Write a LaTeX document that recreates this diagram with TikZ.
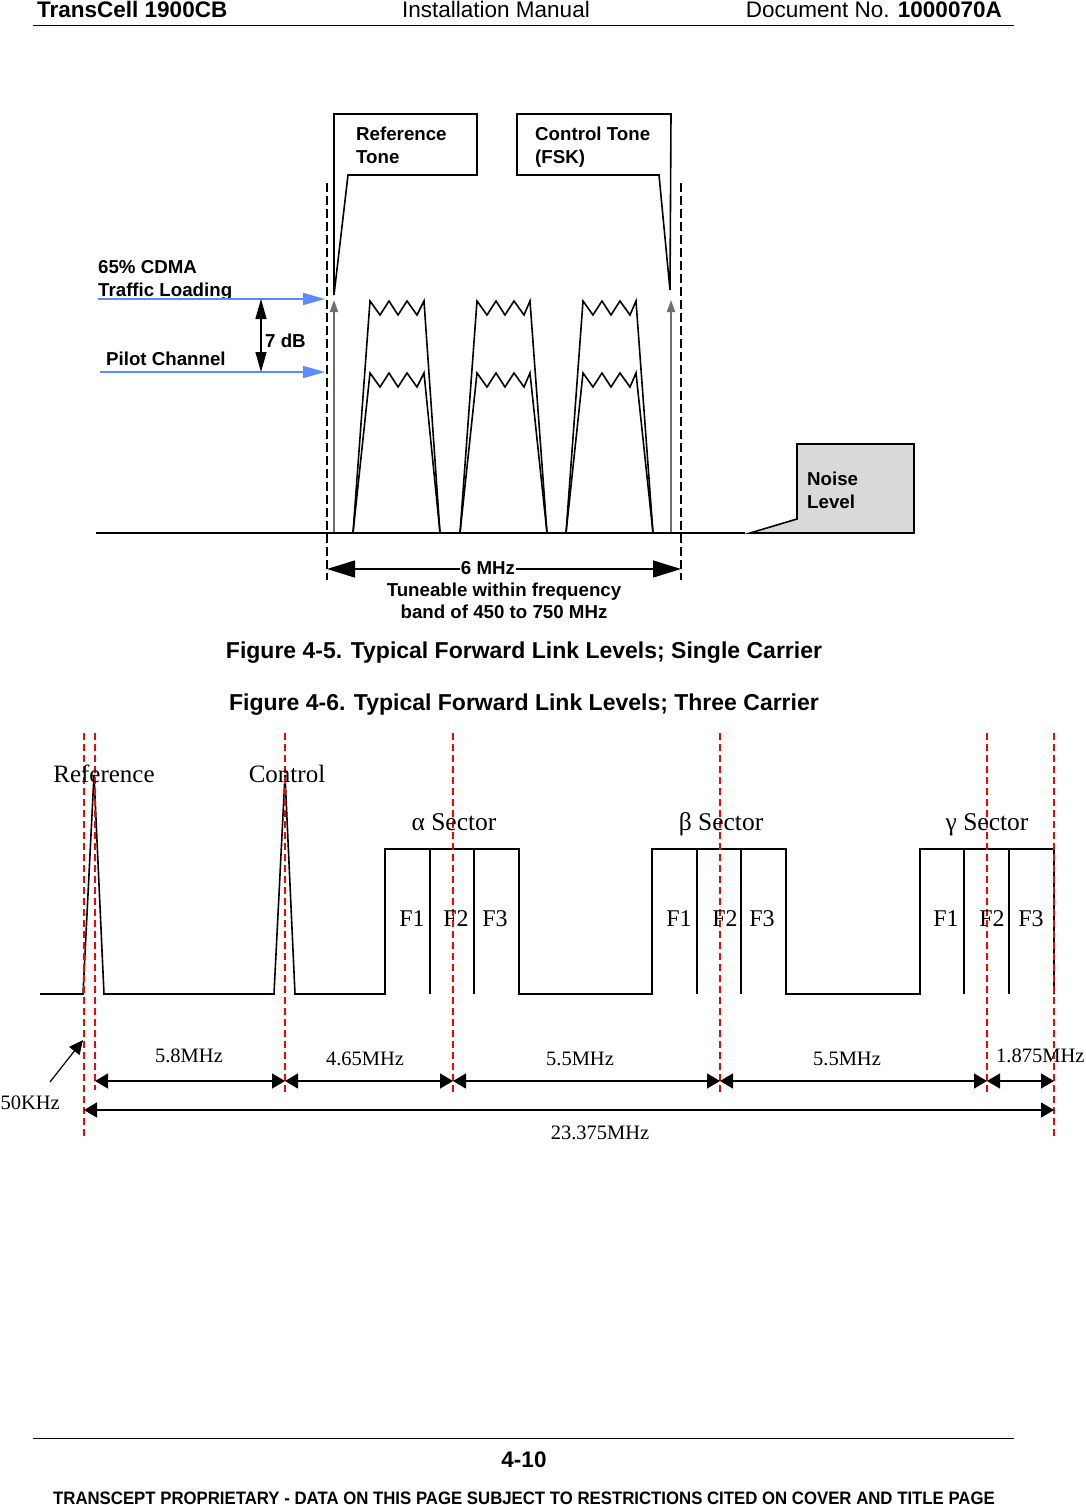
\documentclass[tikz,border=0pt]{standalone}
\usepackage{fontspec}
\setmainfont{Liberation Serif}
\newfontfamily\hel{Liberation Sans}
\usetikzlibrary{arrows.meta}

\definecolor{pilotblue}{RGB}{90,140,255}
\definecolor{noisegray}{RGB}{217,217,217}
\definecolor{tonegray}{RGB}{110,110,110}

\tikzset{
    hdr/.style={font=\hel\fontsize{22.5}{26}\selectfont, inner sep=0pt},
    lbl/.style={font=\hel\bfseries\fontsize{18.7}{22}\selectfont, inner sep=0pt, anchor=base west},
    trc/.style={font=\fontsize{24}{28}\selectfont, inner sep=0pt, anchor=base},
    freq/.style={font=\fontsize{20.5}{24}\selectfont, inner sep=0pt, anchor=base},
    sig/.style={line width=1.6pt, line join=miter},
    redline/.style={red, line width=1.4pt, dash pattern=on 7pt off 4pt},
    dim/.style={line width=1.4pt, {Triangle[length=13pt,width=15pt]}-{Triangle[length=13pt,width=15pt]}}
}

\begin{document}
\begin{tikzpicture}[x=1pt,y=-1pt]
    \fill[white] (0,0) rectangle (1085,1505);
    \useasboundingbox (0,0) rectangle (1085,1505);

    % Page header
    \node[hdr, font=\hel\bfseries\fontsize{22.5}{26}\selectfont, anchor=base west] (prod) at (37,17) {TransCell 1900CB};
    \node[hdr, anchor=base] (manual) at (496,17) {Installation Manual};
    \node[hdr, anchor=base east] (docno) at (1002,17) {Document No. \textbf{1000070A}};
    \draw[line width=1pt] (33,25) -- (1014,25);

    % Single carrier: callouts for the tones
    \draw[sig] (334,114) -- (477,114) -- (477,175) -- (348,175) -- (334,295) -- cycle;
    \node[lbl] (reftone1) at (356,140) {Reference};
    \node[lbl] (reftone2) at (356,163) {Tone};
    \draw[sig] (517,114) -- (671,114) -- (670,290) -- (659,175) -- (517,175) -- cycle;
    \node[lbl] (ctltone1) at (535,140) {Control Tone};
    \node[lbl] (ctltone2) at (535,163) {(FSK)};

    % Band edges
    \foreach \x in {327,681} {
        \draw[line width=1.4pt, dash pattern=on 9pt off 4pt] (\x,183) -- (\x,580);
    }

    % Tones
    \foreach \x in {334,671} {
        \draw[tonegray, line width=1.8pt, -{Triangle[length=12pt,width=8pt]}] (\x,533) -- (\x,300);
    }

    % Noise floor
    \draw[sig] (96,533) -- (745,533);

    % CDMA carriers (traffic and pilot levels)
    \foreach \a/\b/\c/\d in {353/370/424/440, 460/477/530/547, 566/583/636/653} {
        \foreach \t in {301,373} {
            \draw[sig] (\a,533) -- (\b,\t) -- ({\b+10},{\t+14}) -- ({\b+19},\t) -- ({\b+28},{\t+14})
                -- ({\b+37},\t) -- ({\b+47},{\t+14}) -- (\c,\t) -- (\d,533);
        }
    }

    % Noise level callout
    \draw[sig, fill=noisegray] (797,444) -- (914,444) -- (914,533) -- (750,533) -- (797,519) -- cycle;
    \node[lbl] (noise1) at (807,485) {Noise};
    \node[lbl] (noise2) at (807,508) {Level};

    % Levels
    \node[lbl] (cdma1) at (98,273) {65\% CDMA};
    \node[lbl] (cdma2) at (98,296) {Traffic Loading};
    \node[lbl] (pilot) at (106,365) {Pilot Channel};
    \coordinate (trafficL) at (98,299);
    \coordinate (trafficR) at (325,299);
    \coordinate (pilotL) at (100,372);
    \coordinate (pilotR) at (325,372);
    \draw[pilotblue, line width=1.6pt, -{Triangle[length=22pt,width=12pt]}] (trafficL) -- (trafficR);
    \draw[pilotblue, line width=1.6pt, -{Triangle[length=22pt,width=12pt]}] (pilotL) -- (pilotR);
    \draw[line width=1.4pt, {Triangle[length=20pt,width=11pt]}-{Triangle[length=20pt,width=11pt]}] (261,299) -- (261,372);
    \node[lbl] (sevendb) at (265,347) {7 dB};

    % Channel width
    \coordinate (bwL) at (327,569);
    \coordinate (bwR) at (681,569);
    \draw[line width=1.4pt, {Triangle[length=28pt,width=17pt]}-{Triangle[length=28pt,width=17pt]}] (bwL) -- (bwR);
    \node[lbl, anchor=base, fill=white, inner sep=1pt] (sixmhz) at (488,574) {6 MHz};
    \node[lbl, anchor=base] (tune1) at (504,596) {Tuneable within frequency};
    \node[lbl, anchor=base] (tune2) at (504,618) {band of 450 to 750 MHz};

    % Captions
    \node[font=\hel\bfseries\fontsize{23}{27}\selectfont, inner sep=0pt, anchor=base] (cap45) at (524,658)
        {Figure 4-5. Typical Forward Link Levels; Single Carrier};
    \node[font=\hel\bfseries\fontsize{23}{27}\selectfont, inner sep=0pt, anchor=base] (cap46) at (524,710)
        {Figure 4-6. Typical Forward Link Levels; Three Carrier};

    % Three carrier spectrum
    \draw[sig] (40,994) -- (83,994) -- (94,775) -- (104,994) -- (274,994) -- (285,775) -- (295,994)
        -- (385,994) -- (385,849) -- (519,849) -- (519,994) -- (652,994) -- (652,849) -- (786,849)
        -- (786,994) -- (920,994) -- (920,849) -- (1054,849) -- (1054,994);
    \foreach \x in {430,474,697,741,964,1009} {
        \draw[line width=1.3pt] (\x,849) -- (\x,994);
    }

    % Frequency markers
    \foreach \x/\y in {84/1138, 95/1090, 285/1095, 453/1095, 720/1095, 987/1095, 1054/1138} {
        \draw[redline] (\x,733) -- (\x,\y);
    }

    % Labels
    \node[trc, font=\fontsize{25}{28}\selectfont] (reflbl) at (104,782) {Reference};
    \node[trc, font=\fontsize{25}{28}\selectfont] (ctllbl) at (287,782) {Control};
    \node[trc, font=\fontsize{25.5}{28}\selectfont] (alpha) at (454,830) {α Sector};
    \node[trc, font=\fontsize{25.5}{28}\selectfont] (beta) at (721,830) {β Sector};
    \node[trc, font=\fontsize{25.5}{28}\selectfont] (gamma) at (987,830) {γ Sector};
    \foreach \s/\a/\b/\c in {a/412/456/495, b/679/725/762, g/946/992/1031} {
        \node[trc] (\s f1) at (\a,926) {F1};
        \node[trc] (\s f2) at (\b,926) {F2};
        \node[trc] (\s f3) at (\c,926) {F3};
    }

    % Spacing
    \foreach \n/\x in {r/95, c/285, a/453, b/720, g/987, e/1054} {
        \coordinate (d\n) at (\x,1081);
    }
    \draw[dim] (dr) -- (dc);
    \draw[dim] (dc) -- (da);
    \draw[dim] (da) -- (db);
    \draw[dim] (db) -- (dg);
    \draw[dim] (dg) -- (de);
    \coordinate (totL) at (84,1110);
    \coordinate (totR) at (1054,1110);
    \draw[dim] (totL) -- (totR);
    \node[freq] (s1) at (189,1062) {5.8MHz};
    \node[freq] (s2) at (365,1065) {4.65MHz};
    \node[freq] (s3) at (580,1065) {5.5MHz};
    \node[freq] (s4) at (847,1065) {5.5MHz};
    \node[freq, anchor=base west] (s5) at (996,1062) {1.875MHz};
    \node[freq] (stot) at (600,1139) {23.375MHz};
    \node[freq, anchor=base east] (khz) at (60,1109) {50KHz};
    \coordinate (khzA) at (50,1082);
    \coordinate (khzB) at (83,1040);
    \draw[line width=1.2pt, -{Triangle[length=14pt,width=13pt]}] (khzA) -- (khzB);

    % Page footer
    \draw[line width=1pt] (33,1438) -- (1014,1438);
    \node[hdr, font=\hel\bfseries\fontsize{22.5}{26}\selectfont, anchor=base] (pageno) at (524,1467) {4-10};
    \node[inner sep=0pt, anchor=base, font=\hel\bfseries\fontsize{18}{22}\selectfont] (legal) at (524,1504)
        {\scalebox{0.932}[1]{TRANSCEPT PROPRIETARY - DATA ON THIS PAGE SUBJECT TO RESTRICTIONS CITED ON COVER AND TITLE PAGE}};
\end{tikzpicture}
\end{document}
